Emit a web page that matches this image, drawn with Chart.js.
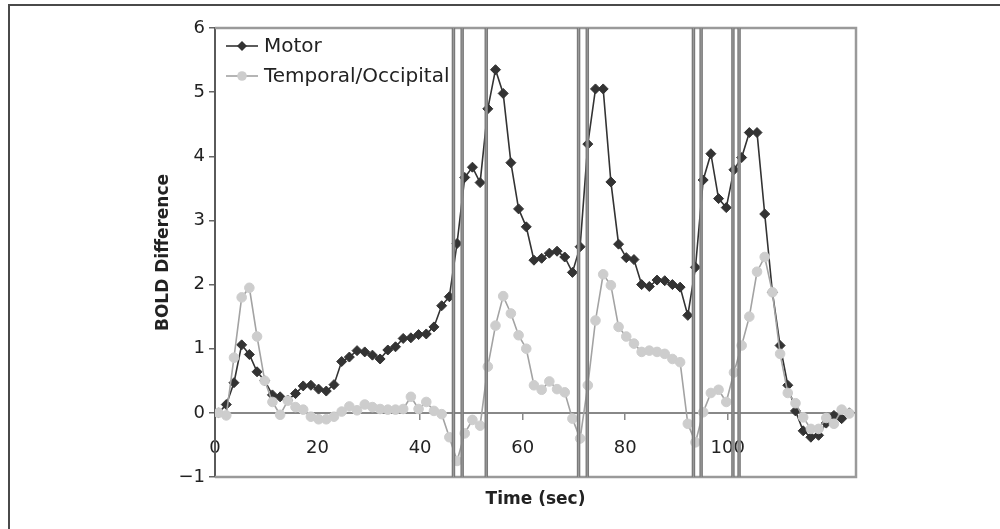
<!DOCTYPE html>
<html>
<head>
<meta charset="utf-8">
<script src="https://cdn.jsdelivr.net/npm/chart.js@4.4.1/dist/chart.umd.min.js"></script>
<style>
  html, body { margin: 0; padding: 0; background: #fff; }
  #wrap { width: 1000px; height: 529px; position: relative; }
</style>
</head>
<body>
<div id="wrap"><canvas id="chart"></canvas></div>
<script>
// sampling grid (one scan every 1.5 s)
const SAMPLE_START = 0.7;
const SAMPLE_STEP = 1.5;

const motor = [0.0, 0.13, 0.47, 1.06, 0.91, 0.64, 0.5, 0.28, 0.25, 0.2, 0.3, 0.42, 0.43, 0.37, 0.34, 0.44,
  0.8, 0.87, 0.97, 0.95, 0.9, 0.84, 0.98, 1.03, 1.16, 1.17, 1.22, 1.23, 1.34, 1.67, 1.81, 2.64, 3.67, 3.83,
  3.59, 4.74, 5.35, 4.98, 3.9, 3.18, 2.9, 2.38, 2.41, 2.49, 2.52, 2.43, 2.19, 2.59, 4.19, 5.05, 5.05, 3.6,
  2.63, 2.42, 2.39, 2.0, 1.97, 2.07, 2.06, 2.0, 1.96, 1.52, 2.27, 3.63, 4.04, 3.34, 3.2, 3.79, 3.98, 4.37,
  4.37, 3.1, 1.88, 1.05, 0.43, 0.03, -0.28, -0.38, -0.35, -0.16, -0.04, -0.09, 0.0];

const temporal = [0.0, -0.04, 0.86, 1.8, 1.95, 1.19, 0.5, 0.17, -0.03, 0.19, 0.09, 0.05, -0.06, -0.1, -0.1,
  -0.06, 0.02, 0.1, 0.04, 0.13, 0.09, 0.06, 0.05, 0.05, 0.06, 0.25, 0.06, 0.17, 0.03, -0.02, -0.38, -0.75,
  -0.32, -0.11, -0.2, 0.72, 1.36, 1.82, 1.55, 1.21, 1.0, 0.43, 0.36, 0.49, 0.37, 0.32, -0.09, -0.4, 0.43,
  1.44, 2.16, 1.99, 1.34, 1.19, 1.08, 0.95, 0.97, 0.95, 0.92, 0.84, 0.79, -0.17, -0.46, 0.01, 0.31, 0.36,
  0.17, 0.63, 1.05, 1.5, 2.2, 2.43, 1.88, 0.92, 0.31, 0.15, -0.07, -0.25, -0.25, -0.08, -0.17, 0.05, -0.01];

// task event markers (sec)
const eventTimes = [46.5, 48.2, 52.9, 70.9, 72.6, 93.3, 94.8, 101.0, 102.2];

const times = motor.map((_, i) => SAMPLE_START + i * SAMPLE_STEP);
const FONT = "'DejaVu Sans', Verdana, sans-serif";

const frame = {
  id: 'frame',
  beforeDraw(chart) {
    const ctx = chart.ctx;
    ctx.save();
    ctx.strokeStyle = '#4a4a4a';
    ctx.lineWidth = 2;
    ctx.beginPath();
    ctx.moveTo(9, 529);
    ctx.lineTo(9, 5);
    ctx.lineTo(1000, 5);
    ctx.stroke();
    ctx.restore();
  },
  beforeDatasetsDraw(chart) {
    const {ctx, chartArea: a} = chart;
    ctx.save();
    ctx.strokeStyle = '#9a9a9a';
    ctx.lineWidth = 2.5;
    ctx.beginPath();
    ctx.moveTo(a.left, a.top);
    ctx.lineTo(a.right, a.top);
    ctx.lineTo(a.right, a.bottom);
    ctx.lineTo(a.left, a.bottom);
    ctx.stroke();
    ctx.restore();
  }
};

const events = {
  id: 'events',
  afterDatasetsDraw(chart) {
    const {ctx, chartArea: a, scales: {x}} = chart;
    ctx.save();
    eventTimes.forEach(t => {
      const px = x.getPixelForValue(t);
      ctx.strokeStyle = '#7a7a7a';
      ctx.lineWidth = 3.5;
      ctx.beginPath();
      ctx.moveTo(px, a.top);
      ctx.lineTo(px, a.bottom);
      ctx.stroke();
      ctx.strokeStyle = '#9c9c9c';
      ctx.lineWidth = 1;
      ctx.beginPath();
      ctx.moveTo(px, a.top);
      ctx.lineTo(px, a.bottom);
      ctx.stroke();
    });
    ctx.restore();
  }
};

const legendBox = {
  id: 'legendBox',
  afterDraw(chart) {
    const ctx = chart.ctx;
    const a = chart.chartArea;
    const rows = [
      {ds: chart.data.datasets[1], y: a.top + 18},
      {ds: chart.data.datasets[0], y: a.top + 48}
    ];
    ctx.save();
    rows.forEach(r => {
      const x0 = a.left + 11, x1 = a.left + 43, mx = (x0 + x1) / 2;
      ctx.strokeStyle = r.ds.borderColor;
      ctx.lineWidth = r.ds.borderWidth;
      ctx.beginPath();
      ctx.moveTo(x0, r.y);
      ctx.lineTo(x1, r.y);
      ctx.stroke();
      ctx.fillStyle = r.ds.pointBackgroundColor;
      ctx.beginPath();
      const rad = r.ds.pointRadius;
      if (r.ds.pointStyle === 'rectRot') {
        ctx.moveTo(mx, r.y - rad);
        ctx.lineTo(mx + rad, r.y);
        ctx.lineTo(mx, r.y + rad);
        ctx.lineTo(mx - rad, r.y);
        ctx.closePath();
      } else {
        ctx.arc(mx, r.y, rad, 0, Math.PI * 2);
      }
      ctx.fill();
      ctx.fillStyle = '#222';
      ctx.font = '20px ' + FONT;
      ctx.textAlign = 'left';
      ctx.textBaseline = 'middle';
      ctx.fillText(r.ds.label, x1 + 6, r.y + 1);
    });
    ctx.restore();
  }
};

new Chart(document.getElementById('chart'), {
  type: 'line',
  data: {
    datasets: [
      {
        label: 'Temporal/Occipital',
        data: times.map((t, i) => ({x: t, y: temporal[i]})),
        borderColor: '#a3a3a3',
        borderWidth: 1.6,
        pointStyle: 'circle',
        pointRadius: 4.8,
        pointBackgroundColor: '#cdcdcd',
        pointBorderColor: '#cdcdcd',
        pointBorderWidth: 1,
        order: 0
      },
      {
        label: 'Motor',
        data: times.map((t, i) => ({x: t, y: motor[i]})),
        borderColor: '#333333',
        borderWidth: 1.6,
        pointStyle: 'rectRot',
        pointRadius: 5,
        pointBackgroundColor: '#333333',
        pointBorderColor: '#333333',
        pointBorderWidth: 1,
        order: 1
      }
    ]
  },
  options: {
    responsive: true,
    maintainAspectRatio: false,
    animation: false,
    layout: { padding: { left: 140, right: 144, top: 28, bottom: 0 } },
    plugins: { legend: { display: false }, tooltip: { enabled: false } },
    scales: {
      x: {
        type: 'linear',
        min: 0, max: 125,
        position: { y: 0 },
        afterBuildTicks: s => { s.ticks = s.ticks.filter(t => t.value % 20 === 0); },
        ticks: { stepSize: 20, color: '#222', font: { family: FONT, size: 18 }, padding: 19, maxRotation: 0 },
        grid: { drawOnChartArea: false, drawTicks: true, tickLength: 6, color: '#888', lineWidth: 1.5 },
        border: { display: true, color: '#888', width: 2 }
      },
      xb: {
        type: 'linear',
        position: 'bottom',
        min: 0, max: 125,
        ticks: { display: false },
        grid: { display: false },
        border: { display: false },
        title: {
          display: true, text: 'Time (sec)', color: '#222',
          font: { family: FONT, size: 17, weight: 'bold' },
          padding: { top: 0, bottom: 19 }
        },
        afterFit: s => { s.height = 52; }
      },
      y: {
        min: -1, max: 6,
        ticks: {
          stepSize: 1, color: '#222', font: { family: FONT, size: 18 }, padding: 4,
          callback: v => v < 0 ? '\u2212' + Math.abs(v) : String(v)
        },
        grid: { drawOnChartArea: false, drawTicks: true, tickLength: 6, color: '#666', lineWidth: 1.5 },
        border: { display: true, color: '#5a5a5a', width: 2 },
        title: {
          display: true, text: 'BOLD Difference', color: '#222',
          font: { family: FONT, size: 17, weight: 'bold' },
          padding: { top: 13, bottom: 0 }
        },
        afterFit: s => { s.width = 75; }
      }
    }
  },
  plugins: [frame, events, legendBox]
});
</script>
</body>
</html>
